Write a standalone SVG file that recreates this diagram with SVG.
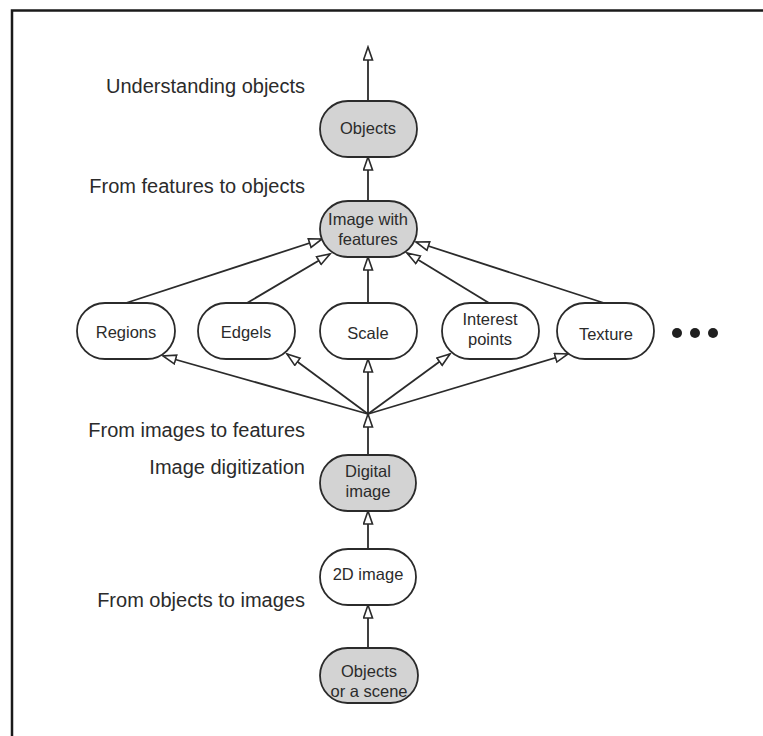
<svg xmlns="http://www.w3.org/2000/svg" width="763" height="736" viewBox="0 0 763 736">
  <style>
    .node rect { stroke: #2b2b2b; stroke-width: 1.8; }
    .plain rect { fill: #ffffff; }
    .shaded rect { fill: #d3d3d3; }
    .node text { font-family: "Liberation Sans", Arial, sans-serif; font-size: 16.5px; fill: #2b2b2b; text-anchor: middle; }
    .stage { font-family: "Liberation Sans", Arial, sans-serif; font-size: 20px; fill: #2b2b2b; text-anchor: end; }
    .edges path { fill: none; stroke: #2b2b2b; stroke-width: 1.8; marker-end: url(#open); }
  </style>
  <defs>
    <marker id="open" markerUnits="userSpaceOnUse" markerWidth="16" markerHeight="13" refX="14" refY="5.5" orient="auto">
      <path d="M1,1 L14,5.5 L1,10 Z" fill="#ffffff" stroke="#2b2b2b" stroke-width="1.6"/>
    </marker>
  </defs>

  <rect width="763" height="736" fill="#ffffff"/>
  <!-- frame -->
  <path d="M12,736 V10.5 H763" fill="none" stroke="#1a1a1a" stroke-width="2.5"/>

  <!-- stage labels -->
  <g id="labels">
    <text class="stage" x="305" y="93">Understanding objects</text>
    <text class="stage" x="305" y="193">From features to objects</text>
    <text class="stage" x="305" y="437">From images to features</text>
    <text class="stage" x="305" y="474">Image digitization</text>
    <text class="stage" x="305" y="607">From objects to images</text>
  </g>

  <!-- connectors -->
  <g class="edges" id="edges">
    <path d="M368,101 V47"/>
    <path d="M368,201 V157"/>
    <path d="M126,303 L322,239"/>
    <path d="M247,303 L330,254"/>
    <path d="M368,303 V257"/>
    <path d="M489,303 L407,253"/>
    <path d="M604,303 L416,242"/>
    <path d="M368,414 L163,356"/>
    <path d="M368,414 L287,354"/>
    <path d="M368,414 V359"/>
    <path d="M368,414 L450,354"/>
    <path d="M368,414 L568,354"/>
    <path d="M368,455 V414"/>
    <path d="M368,549 V511"/>
    <path d="M368,648 V605"/>
  </g>

  <!-- nodes -->
  <g id="objects" class="node shaded">
    <rect x="320" y="101" width="97" height="56" rx="28"/>
    <text x="368" y="134">Objects</text>
  </g>
  <g id="image-with-features" class="node shaded">
    <rect x="320" y="201" width="97" height="56" rx="28"/>
    <text x="368" y="225">Image with</text>
    <text x="368" y="245">features</text>
  </g>
  <g id="regions" class="node plain">
    <rect x="77" y="303" width="98" height="56" rx="28"/>
    <text x="126" y="338">Regions</text>
  </g>
  <g id="edgels" class="node plain">
    <rect x="198" y="303" width="97" height="56" rx="28"/>
    <text x="246" y="338">Edgels</text>
  </g>
  <g id="scale" class="node plain">
    <rect x="320" y="303" width="97" height="56" rx="28"/>
    <text x="368" y="339">Scale</text>
  </g>
  <g id="interest-points" class="node plain">
    <rect x="442" y="303" width="97" height="56" rx="28"/>
    <text x="490" y="325">Interest</text>
    <text x="490" y="345">points</text>
  </g>
  <g id="texture" class="node plain">
    <rect x="557" y="303" width="97" height="56" rx="28"/>
    <text x="606" y="340">Texture</text>
  </g>
  <g id="more" fill="#1f1f1f">
    <circle cx="677" cy="333" r="5"/>
    <circle cx="695" cy="333" r="5"/>
    <circle cx="713" cy="333" r="5"/>
  </g>
  <g id="digital-image" class="node shaded">
    <rect x="320" y="455" width="96" height="56" rx="28"/>
    <text x="368" y="477">Digital</text>
    <text x="368" y="497">image</text>
  </g>
  <g id="image-2d" class="node plain">
    <rect x="320" y="549" width="96" height="56" rx="28"/>
    <text x="368" y="580">2D image</text>
  </g>
  <g id="scene" class="node shaded">
    <rect x="320" y="648" width="98" height="55" rx="27.5"/>
    <text x="369" y="677">Objects</text>
    <text x="369" y="697">or a scene</text>
  </g>
</svg>
